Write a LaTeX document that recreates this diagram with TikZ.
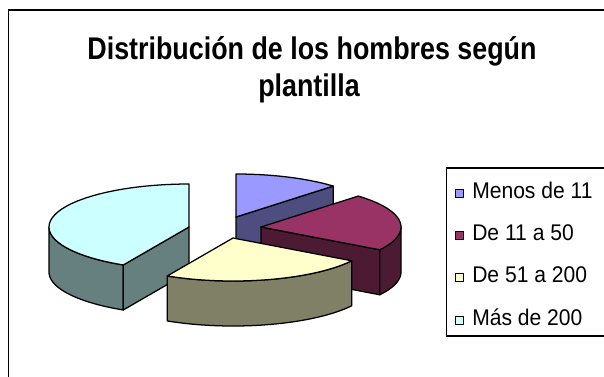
\documentclass[tikz,border=0pt]{standalone}
\usepackage{fontspec}
\setmainfont{Liberation Sans}
\definecolor{blueTop}{HTML}{9999FF}
\definecolor{blueSide}{HTML}{4D4D80}
\definecolor{magTop}{HTML}{993366}
\definecolor{magSide}{HTML}{4D1A33}
\definecolor{yelTop}{HTML}{FFFFCC}
\definecolor{yelSide}{HTML}{808066}
\definecolor{cyaTop}{HTML}{CCFFFF}
\definecolor{cyaSide}{HTML}{668080}
\def\prx{140}
\def\pry{43}
\def\pdep{45}
\newcommand\pietop[5]{%
  \filldraw[pieline,fill=#5] (#1,#2) -- plot[domain=#3:#4,samples=50] ({#1+\prx*cos(\x)},{#2-\pry*sin(\x)}) -- cycle;}
\newcommand\piewall[5]{%
  \filldraw[pieline,fill=#5] plot[domain=#3:#4,samples=40] ({#1+\prx*cos(\x)},{#2-\pry*sin(\x)}) -- plot[domain=#4:#3,samples=40] ({#1+\prx*cos(\x)},{#2+\pdep-\pry*sin(\x)}) -- cycle;}
\newcommand\piecut[4]{%
  \filldraw[pieline,fill=#4] (#1,#2) -- ({#1+\prx*cos(#3)},{#2-\pry*sin(#3)}) -- ++(0,\pdep) -- (#1,#2+\pdep) -- cycle;}
\newcommand\legtxt[1]{\scalebox{0.93}[1]{#1}}
\newcommand\titletxt[1]{\scalebox{0.857}[1]{#1}}
\tikzset{
  pieline/.style={draw=black,line width=0.95pt,line join=round},
  swatch/.style={draw=black,line width=0.7pt,minimum width=6pt,minimum height=6pt,inner sep=0pt,anchor=south west},
  legtext/.style={font=\fontsize{17pt}{20pt}\selectfont,anchor=base west,inner sep=0pt},
  titletext/.style={anchor=base,inner sep=0pt,font=\bfseries\fontsize{23.5pt}{28pt}\selectfont},
}
\begin{document}
\begin{tikzpicture}[x=0.75pt,y=-0.75pt]
\useasboundingbox (0,0) rectangle (604,376);
\clip (0,0) rectangle (604,376);
\fill[white] (0,0) rectangle (604,376);
% outer frame
\draw[line width=1.2pt] (8.3,10) rectangle (640,420);
% title
\node[titletext] (title1) at (312,59.3) {\titletxt{Distribución de los hombres según}};
\node[titletext] (title2) at (309,96.7) {\titletxt{plantilla}};
% pie: blue (Menos de 11)
\piecut{236}{217}{46}{blueSide}
\pietop{236}{217}{90}{46}{blueTop}
% cyan (Más de 200)
\piewall{189}{227}{180}{242}{cyaSide}
\piecut{189}{227}{242}{cyaSide}
\pietop{189}{227}{90}{242}{cyaTop}
% magenta (De 11 a 50)
\piecut{261}{227}{-32}{magSide}
\piewall{261}{227}{-32}{0}{magSide}
\pietop{261}{227}{46}{-32}{magTop}
% yellow (De 51 a 200)
\piewall{233}{238}{-118}{-32}{yelSide}
\pietop{233}{238}{-32}{-118}{yelTop}
% legend
\draw[line width=0.8pt] (446.5,168) rectangle (640,336);
\node[swatch,fill=blueTop] (s1) at (455,197.8) {};
\node[legtext] (l1) at (472,198.3) {\legtxt{Menos de 11}};
\node[swatch,fill=magTop] (s2) at (455,240) {};
\node[legtext] (l2) at (472,240.5) {\legtxt{De 11 a 50}};
\node[swatch,fill=yelTop] (s3) at (455,282.2) {};
\node[legtext] (l3) at (472,282.7) {\legtxt{De 51 a 200}};
\node[swatch,fill=cyaTop] (s4) at (455,324.5) {};
\node[legtext] (l4) at (472,325) {\legtxt{Más de 200}};
\end{tikzpicture}
\end{document}
